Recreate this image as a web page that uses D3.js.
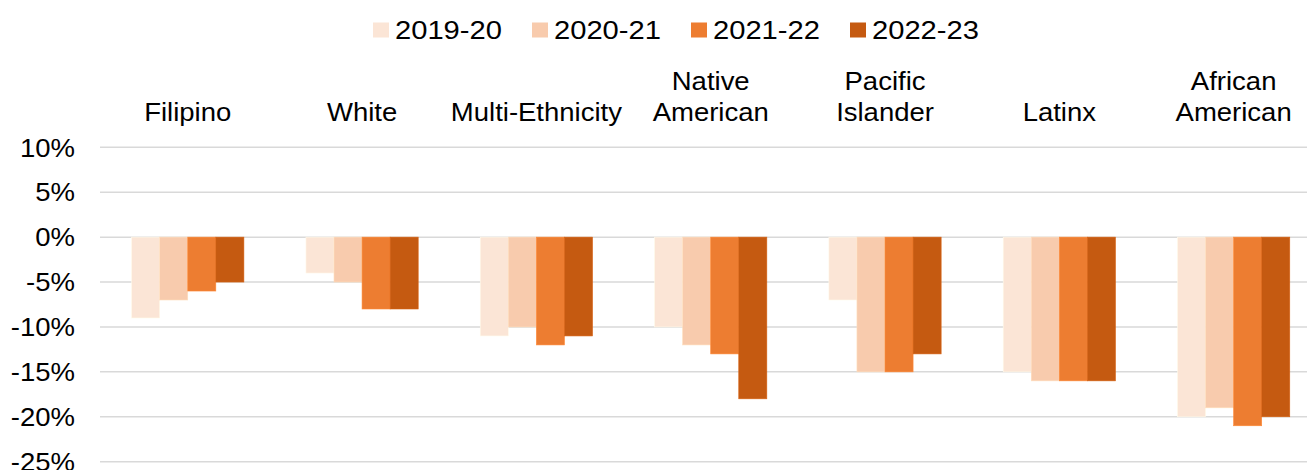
<!DOCTYPE html>
<html>
<head>
<meta charset="utf-8">
<script src="https://cdn.jsdelivr.net/npm/d3@7"></script>
<style>
  html, body { margin: 0; padding: 0; background: #fff; overflow: hidden; }
  svg { display: block; font-family: "Liberation Sans", Arial, sans-serif; }
</style>
</head>
<body>
<svg id="chart" width="1307" height="470"></svg>
<script>
// Change in rate by group, one value per school year (percent)
const categories = ["Filipino", "White", "Multi-Ethnicity", "Native American", "Pacific Islander", "Latinx", "African American"];
const categoryLines = [["Filipino"], ["White"], ["Multi-Ethnicity"], ["Native", "American"], ["Pacific", "Islander"], ["Latinx"], ["African", "American"]];
const seriesNames = ["2019-20", "2020-21", "2021-22", "2022-23"];
const values2019 = [-9, -4, -11, -10, -7, -15, -20];
const values2020 = [-7, -5, -10, -12, -15, -16, -19];
const values2021 = [-6, -8, -12, -13, -15, -16, -21];
const values2022 = [-5, -8, -11, -18, -13, -16, -20];
const yTicks = [10, 5, 0, -5, -10, -15, -20, -25];
const seriesColors = ["#fbe5d6", "#f8cbad", "#ed7d31", "#c55a11"];

const seriesValues = [values2019, values2020, values2021, values2022];
const rows = categories.map((c, i) => ({
  category: c,
  lines: categoryLines[i],
  values: seriesNames.map((s, j) => ({ series: s, value: seriesValues[j][i] }))
}));

const svg = d3.select("#chart");
const fontSize = 25;
const legendFontSize = 26.5;
const stretch = "scale(1.1,1)";   // slightly wide lettering

const x = d3.scaleBand()
  .domain(categories)
  .range([100.6, 1320.8])
  .paddingInner(0.356)
  .paddingOuter(0.178);

const xInner = d3.scaleBand()
  .domain(seriesNames)
  .range([0, x.bandwidth()])
  .padding(0);

const y = d3.scaleLinear()
  .domain([-25, 10])
  .range([461.7, 147.3]);

const color = d3.scaleOrdinal().domain(seriesNames).range(seriesColors);

// Horizontal gridlines
svg.append("g")
  .selectAll("line")
  .data(yTicks)
  .join("line")
  .attr("x1", 100)
  .attr("x2", 1307)
  .attr("y1", d => y(d))
  .attr("y2", d => y(d))
  .attr("stroke", "#d9d9d9")
  .attr("stroke-width", 1.5);

// Y axis labels
const yAxis = d3.axisLeft(y)
  .tickValues(yTicks)
  .tickFormat(d => d + "%")
  .tickSize(0)
  .tickPadding(0);

const yAxisG = svg.append("g")
  .attr("transform", "translate(75,0)")
  .call(yAxis);
yAxisG.select(".domain").remove();
yAxisG.selectAll("text")
  .attr("x", 0)
  .attr("font-size", fontSize)
  .attr("font-family", "'Liberation Sans', Arial, sans-serif")
  .attr("fill", "#000")
  .attr("dy", "0.35em")
  .attr("transform", stretch);

// Bars
const groups = svg.append("g")
  .selectAll("g")
  .data(rows)
  .join("g")
  .attr("transform", d => `translate(${x(d.category)},0)`);

groups.selectAll("rect")
  .data(d => d.values)
  .join("rect")
  .attr("x", d => xInner(d.series))
  .attr("width", xInner.bandwidth())
  .attr("y", d => y(Math.max(0, d.value)))
  .attr("height", d => Math.abs(y(d.value) - y(0)))
  .attr("fill", d => color(d.series))
  .attr("stroke", d => d3.color(color(d.series)).brighter(0.25))
  .attr("stroke-width", 0.6);

// Category labels above the plot
const catLabels = svg.append("g")
  .selectAll("g")
  .data(rows)
  .join("g")
  .attr("transform", d => `translate(${x(d.category) + x.bandwidth() / 2},0)`)
  .append("text")
  .attr("text-anchor", "middle")
  .attr("font-size", fontSize)
  .attr("fill", "#000")
  .attr("transform", stretch);

catLabels.selectAll("tspan")
  .data(d => d.lines.map((t, i, arr) => ({ text: t, idx: i, n: arr.length })))
  .join("tspan")
  .attr("x", 0)
  .attr("y", d => 121 - (d.n - 1 - d.idx) * 31)
  .text(d => d.text);

// Legend
const legendItems = [
  { name: seriesNames[0], x: 373 },
  { name: seriesNames[1], x: 532 },
  { name: seriesNames[2], x: 691 },
  { name: seriesNames[3], x: 850 }
];
const legend = svg.append("g")
  .selectAll("g")
  .data(legendItems)
  .join("g")
  .attr("transform", d => `translate(${d.x},0)`);

legend.append("rect")
  .attr("x", 0)
  .attr("y", 22.5)
  .attr("width", 16)
  .attr("height", 15)
  .attr("fill", d => color(d.name));

legend.append("g")
  .attr("transform", "translate(22,38.5)")
  .append("text")
  .attr("font-size", legendFontSize)
  .attr("fill", "#000")
  .attr("transform", stretch)
  .text(d => d.name);
</script>
</body>
</html>
